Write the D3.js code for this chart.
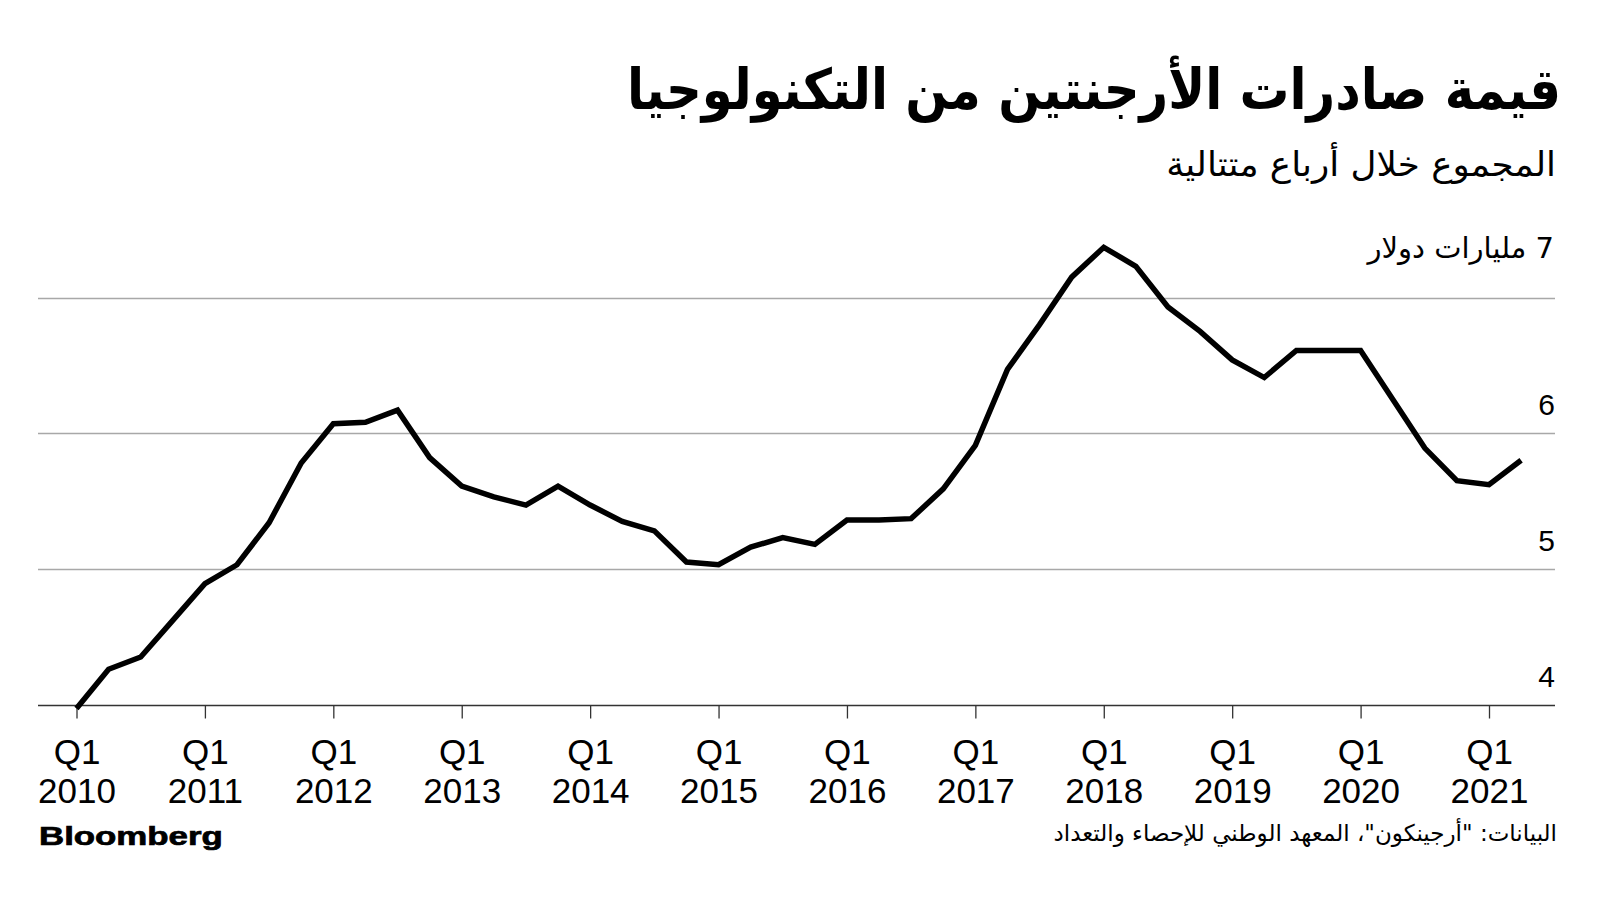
<!DOCTYPE html>
<html>
<head>
<meta charset="utf-8">
<script src="https://cdn.jsdelivr.net/npm/d3@7"></script>
<style>
  html, body { margin: 0; padding: 0; background: #fff; }
  svg { display: block; }
  .ar { font-family: "DejaVu Sans", sans-serif; }
  .num { font-family: "Liberation Sans", Arial, sans-serif; }
</style>
</head>
<body>
<svg id="chart" width="1600" height="900"></svg>
<script>
// ---- Data ----
const title = "قيمة صادرات الأرجنتين من التكنولوجيا";
const subtitle = "المجموع خلال أرباع متتالية";
const unitLabel = "7 مليارات دولار";
const source = "البيانات: \"أرجينكون\"، المعهد الوطني للإحصاء والتعداد";

const years = [2010, 2011, 2012, 2013, 2014, 2015, 2016, 2017, 2018, 2019, 2020, 2021];
const quarters = ["Q1", "Q2", "Q3", "Q4"];
// Rolling four-quarter sum of tech exports, billions USD (Q1 2010 .. Q2 2021)
const values = [
  3.97, 4.26, 4.35, 4.62,
  4.89, 5.03, 5.34, 5.78,
  6.07, 6.08, 6.17, 5.82,
  5.61, 5.53, 5.47, 5.61,
  5.47, 5.35, 5.28, 5.05,
  5.03, 5.16, 5.23, 5.18,
  5.36, 5.36, 5.37, 5.59,
  5.91, 6.47, 6.80, 7.15,
  7.37, 7.23, 6.93, 6.75,
  6.54, 6.41, 6.61, 6.61,
  6.61, 6.25, 5.89, 5.65,
  5.62, 5.80
];
const yTicks = [4, 5, 6, 7];
const tickYears = years;

// ---- Layout ----
const svg = d3.select("#chart");
const plotLeft = 38, plotRight = 1555;

const x = d3.scaleLinear().domain([0, 44]).range([76.5, 1489]);
const y = d3.scaleLinear().domain([4, 7]).range([704.5, 297.5]);

const data = values.map((v, i) => ({
  i, v, label: quarters[i % 4] + " " + years[Math.floor(i / 4)]
}));

// Arabic text, right edge at xr, optionally squeezed horizontally
function arText(txt, xr, yb, size, sx, bold, rtl) {
  const t = svg.append("text")
    .attr("class", "ar")
    .attr("transform", `translate(${xr},${yb}) scale(${sx},1)`)
    .attr("x", 0).attr("y", 0)
    .style("font-weight", bold ? "bold" : "normal")
    .style("font-size", size + "px")
    .attr("fill", "#000")
    .text(txt);
  if (rtl) t.style("direction", "rtl").attr("text-anchor", "start");
  else t.attr("text-anchor", "end");
  return t;
}

// Title & subtitle
arText(title, 1561, 109, 56, 0.888, true, false);
arText(subtitle, 1556, 176, 34, 1.05, false, false);

// Gridlines
svg.append("g").selectAll("line")
  .data(yTicks.filter(d => d !== 4))
  .join("line")
  .attr("x1", plotLeft).attr("x2", plotRight)
  .attr("y1", d => Math.round(y(d)) + 0.5).attr("y2", d => Math.round(y(d)) + 0.5)
  .attr("stroke", "#a8a8a8").attr("stroke-width", 1.3);

// Y labels
svg.append("g").selectAll("text")
  .data(yTicks.filter(d => d !== 7))
  .join("text")
  .attr("class", "num")
  .attr("x", plotRight).attr("y", d => y(d) - 18)
  .attr("text-anchor", "end")
  .style("font-size", "30px")
  .attr("fill", "#000")
  .text(d => d);

arText(unitLabel, 1554, 258, 29, 1, false, true);

// X axis
const xAxis = d3.axisBottom(x)
  .tickValues(tickYears.map((d, k) => k * 4))
  .tickSize(13)
  .tickSizeOuter(0)
  .tickFormat("");
const gx = svg.append("g")
  .attr("transform", `translate(0,${Math.round(y(4)) + 0.5})`)
  .call(xAxis);
gx.select(".domain").remove();
gx.selectAll(".tick line").attr("stroke", "#333").attr("stroke-width", 1.3);

gx.selectAll(".tick").each(function(d, k) {
  const t = d3.select(this).append("text")
    .attr("class", "num")
    .attr("fill", "#000")
    .attr("text-anchor", "middle")
    .style("font-size", "35px");
  t.append("tspan").attr("x", 0).attr("y", 58).text("Q1");
  t.append("tspan").attr("x", 0).attr("y", 97).text(tickYears[k]);
});

// Baseline
svg.append("line")
  .attr("x1", plotLeft).attr("x2", plotRight)
  .attr("y1", Math.round(y(4)) + 0.5).attr("y2", Math.round(y(4)) + 0.5)
  .attr("stroke", "#333").attr("stroke-width", 1.6);

// Line
const line = d3.line().x(d => x(d.i)).y(d => y(d.v));
svg.append("path")
  .datum(data)
  .attr("d", line)
  .attr("fill", "none")
  .attr("stroke", "#000")
  .attr("stroke-width", 5.5)
  .attr("stroke-linejoin", "miter")
  .attr("stroke-linecap", "butt");

// Footer
svg.append("text")
  .attr("transform", "translate(39,845) scale(1.34,1)")
  .style("font-family", "'Liberation Sans', Arial, sans-serif")
  .style("font-weight", "bold")
  .style("font-size", "26px")
  .attr("fill", "#000")
  .attr("stroke", "#000")
  .attr("stroke-width", 0.7)
  .text("Bloomberg");

arText(source, 1557, 841, 23, 1, false, true);
</script>
</body>
</html>
